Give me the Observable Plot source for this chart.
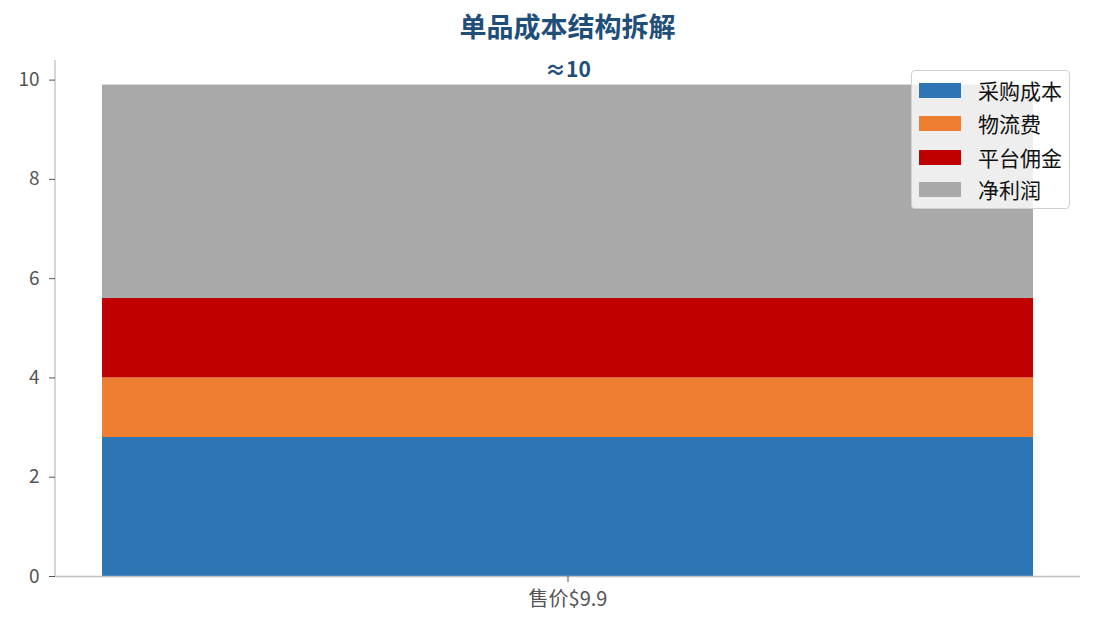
<!DOCTYPE html>
<html>
<head>
<meta charset="utf-8">
<script src="https://cdn.jsdelivr.net/npm/d3@7"></script>
<script src="https://cdn.jsdelivr.net/npm/@observablehq/plot@0.6"></script>
<style>
  body { margin: 0; background: #fff; font-family: "Noto Sans CJK SC", "Noto Sans", sans-serif; }
  #wrap { position: relative; width: 1095px; height: 629px; }
  #title { position: absolute; left: 55px; width: 1025px; top: 8px; text-align: center; line-height: 36px;
           font-size: 27px; font-weight: bold; color: #1f4e79; }
  #chart { position: absolute; left: 0; top: 50px; }
  #legend { position: absolute; left: 911px; top: 70px; width: 157px; height: 137px;
            background: rgba(255,255,255,0.8); border: 1px solid #d0d0d0; border-radius: 4px; }
  .row { position: absolute; left: 7px; height: 24px; display: flex; align-items: center; font-size: 21px; color: #111; }
  .sw { width: 42px; height: 15px; margin-right: 17px; }
</style>
</head>
<body>
<div id="wrap">
  <div id="title"></div>
  <div id="chart"></div>
  <div id="legend"></div>
</div>
<script>
const title = "单品成本结构拆解";
const categories = ["售价$9.9"];
const components = ["采购成本", "物流费", "平台佣金", "净利润"];
const values = [2.8, 1.2, 1.6, 4.3];
const colors = ["#2e75b6", "#ed7d31", "#c00000", "#a9a9a9"];
const totalLabel = "≈10";
const yTicks = [0, 2, 4, 6, 8, 10];

document.getElementById("title").textContent = title;

const rows = components.map((c, i) => ({category: categories[0], component: c, value: values[i]}));
const total = d3.sum(values);

// left spine drawn along the plot frame's left edge
const leftSpine = (index, scales, values, dimensions) => {
  const line = document.createElementNS("http://www.w3.org/2000/svg", "line");
  line.setAttribute("x1", dimensions.marginLeft);
  line.setAttribute("x2", dimensions.marginLeft);
  line.setAttribute("y1", dimensions.height - dimensions.marginBottom);
  line.setAttribute("y2", dimensions.marginTop);
  line.setAttribute("stroke", "#c0c0c0");
  line.setAttribute("stroke-width", 1.3);
  return line;
};

const plot = Plot.plot({
  width: 1095,
  height: 579,
  marginLeft: 55,
  marginRight: 15,
  marginTop: 10,
  marginBottom: 53,
  style: {fontFamily: '"Noto Sans CJK SC", "Noto Sans", sans-serif', fontSize: "15px", color: "#555"},
  x: {domain: categories, paddingInner: 0, paddingOuter: 0.05, label: null},
  y: {domain: [0, total * 1.05], label: null},
  color: {domain: components, range: colors},
  marks: [
    Plot.barY(rows, {x: "category", y: "value", fill: "component"}),
    leftSpine,
    Plot.ruleY([0], {stroke: "#c0c0c0", strokeWidth: 1.3}),
    Plot.axisY(yTicks, {tickSize: 6, tickPadding: 10, tickFormat: d3.format("d"), stroke: "#555", fontSize: 19, fill: "#555"}),
    Plot.axisX({tickSize: 6, tickPadding: 9, stroke: "#555", fontSize: 20, fill: "#555"}),
    Plot.text([{category: categories[0], total}], {x: "category", y: "total", text: () => totalLabel,
      lineAnchor: "bottom", dy: -8, fontSize: 21, fontWeight: "bold", fill: "#1f4e79"})
  ]
});
document.getElementById("chart").appendChild(plot);

const legend = document.getElementById("legend");
const rowTops = [7, 40, 74, 106];
components.forEach((c, i) => {
  const r = document.createElement("div");
  r.className = "row";
  r.style.top = rowTops[i] + "px";
  const sw = document.createElement("div");
  sw.className = "sw";
  sw.style.background = colors[i];
  const t = document.createElement("span");
  t.textContent = c;
  r.appendChild(sw); r.appendChild(t);
  legend.appendChild(r);
});
</script>
</body>
</html>
